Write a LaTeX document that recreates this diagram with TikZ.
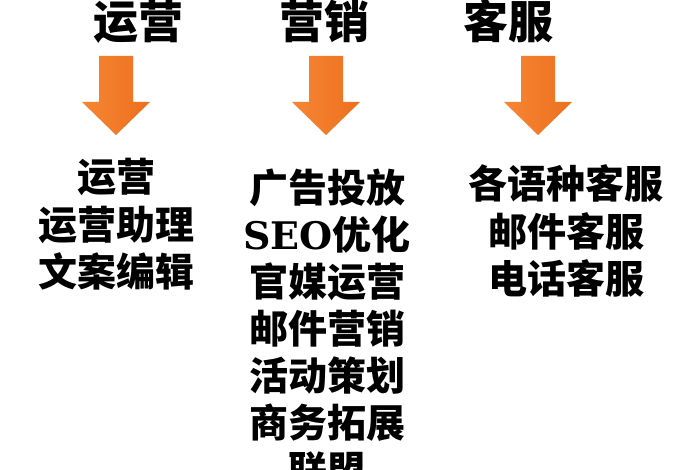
\documentclass[tikz,border=0pt]{standalone}
\usepackage{fontspec}
\usepackage{tikz}
\usepackage{xcolor}
\setmainfont{Noto Sans CJK SC}
\newfontfamily\seofont{DejaVu Serif}

\definecolor{arrowleft}{RGB}{246,134,52}
\definecolor{arrowright}{RGB}{236,112,30}

\tikzset{
  head/.style={inner sep=0pt, anchor=base, font=\fontsize{45}{45}\selectfont\bfseries},
  item/.style={inner sep=0pt, anchor=base, font=\fontsize{39}{39}\selectfont\bfseries},
  downarrow/.style={left color=arrowleft, right color=arrowright, draw=none}
}

\begin{document}
\begin{tikzpicture}[x=1pt,y=-1pt]
                \useasboundingbox[fill=white] (0,0) rectangle (700,470);
                % headings
                \node[head] (yunying) at (138,39) {运营};
                \node[head] (yingxiao) at (324,39) {营销};
                \node[head] (kefu) at (508,39) {客服};
                % orange arrows
                \foreach \x in {116,326,538}
                    \shade[downarrow] (\x-17,56) -- (\x+17,56) -- (\x+17,102) -- (\x+34,102)
                        -- (\x,135) -- (\x-34,102) -- (\x-17,102) -- cycle;
                % lists
                \foreach \txt [count=\i] in {运营,运营助理,文案编辑}
                    \node[item] (yy\i) at (116,{145+47*\i}) {\txt};
                \foreach \txt [count=\i] in {广告投放,{{\seofont\bfseries\fontsize{38}{38}\selectfont SEO}优化},官媒运营,邮件营销,活动策划,商务拓展,联盟}
                    \node[item] (yx\i) at (327,{155+47*\i}) {\txt};
                \foreach \txt [count=\i] in {各语种客服,邮件客服,电话客服}
                    \node[item] (kf\i) at (566,{152+47*\i}) {\txt};
            \end{tikzpicture}
\end{document}
